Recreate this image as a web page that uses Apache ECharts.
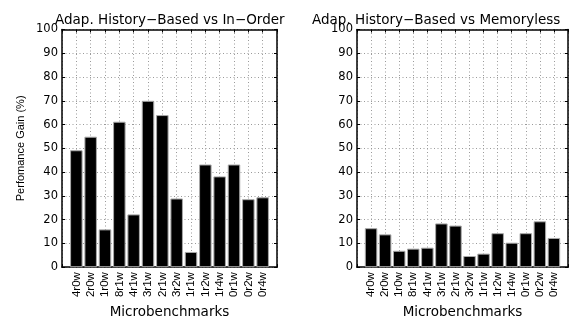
<!DOCTYPE html>
<html>
<head>
<meta charset="utf-8">
<script src="https://cdn.jsdelivr.net/npm/echarts@6/dist/echarts.min.js"></script>
<style>
  html, body { margin: 0; padding: 0; background: #fff; }
  #chart { width: 571px; height: 324px; }
</style>
</head>
<body>
<div id="chart"></div>
<script>
// Microbenchmark names (one bar per benchmark)
const benchmarks = ['4r0w', '2r0w', '1r0w', '8r1w', '4r1w', '3r1w', '2r1w',
                    '3r2w', '1r1w', '1r2w', '1r4w', '0r1w', '0r2w', '0r4w'];

// Performance gain (%) of the adaptive history-based scheduler
const gainVsInOrder    = [49.2, 54.9, 15.9, 61.2, 22.2, 70.0, 64.0,
                          28.9, 6.4, 43.2, 38.2, 43.2, 28.6, 29.4];
const gainVsMemoryless = [16.4, 13.8, 6.9, 7.8, 8.2, 18.4, 17.5,
                          4.7, 5.7, 14.3, 10.3, 14.3, 19.3, 12.3];

const panelTitles = ['Adap. History\u2212Based vs In\u2212Order',
                     'Adap. History\u2212Based vs Memoryless'];
const yTicks = [0, 10, 20, 30, 40, 50, 60, 70, 80, 90, 100];

const FONT = 'DejaVu Sans';
const gridDash = { color: '#9a9a9a', width: 1, type: [1, 2.5] };

function bottomX(grid) {
  return {
    type: 'value', gridIndex: grid, position: 'bottom',
    min: 0, max: benchmarks.length + 1, interval: 1,
    axisLine: { show: true, onZero: false, lineStyle: { color: '#000', width: 1.5 } },
    axisTick: { show: true, inside: true, length: 3, lineStyle: { color: '#000' } },
    axisLabel: {
      rotate: 90, margin: 5, color: '#000',
      fontFamily: 'Liberation Sans', fontSize: 11.5,
      showMinLabel: true, showMaxLabel: true,
      formatter: v => benchmarks[v - 1] || ''
    },
    splitLine: { show: true, lineStyle: gridDash },
    name: 'Microbenchmarks', nameLocation: 'middle', nameGap: 30,
    nameTextStyle: { fontFamily: FONT, fontSize: 13.5, color: '#000' }
  };
}
function topX(grid) {
  return {
    type: 'value', gridIndex: grid, position: 'top',
    min: 0, max: benchmarks.length + 1, interval: 1,
    axisLine: { show: true, onZero: false, lineStyle: { color: '#000', width: 1.5 } },
    axisTick: { show: true, inside: true, length: 3, lineStyle: { color: '#000' } },
    axisLabel: { show: false }, splitLine: { show: false }
  };
}
function leftY(grid, withName) {
  const ax = {
    type: 'value', gridIndex: grid, position: 'left',
    min: 0, max: 100, interval: 10,
    axisLine: { show: true, onZero: false, lineStyle: { color: '#000', width: 1.5 } },
    axisTick: { show: true, inside: true, length: 3, lineStyle: { color: '#000' } },
    axisLabel: { margin: 4, color: '#000', fontFamily: FONT, fontSize: 11.5,
                 customValues: yTicks },
    splitLine: { show: true, lineStyle: gridDash }
  };
  if (withName) {
    ax.name = 'Perfomance Gain (%)';
    ax.nameLocation = 'middle';
    ax.nameGap = 36;
    ax.nameTextStyle = { fontFamily: 'Liberation Sans', fontSize: 11, color: '#000' };
  }
  return ax;
}
function rightY(grid) {
  return {
    type: 'value', gridIndex: grid, position: 'right',
    min: 0, max: 100, interval: 10,
    axisLine: { show: true, onZero: false, lineStyle: { color: '#000', width: 1.5 } },
    axisTick: { show: true, inside: true, length: 3, lineStyle: { color: '#000' } },
    axisLabel: { show: false }, splitLine: { show: false }
  };
}
function barSeries(values, axisIdx) {
  return {
    type: 'bar', xAxisIndex: axisIdx, yAxisIndex: axisIdx,
    barWidth: 12.5,
    itemStyle: { color: '#000', borderColor: '#a8a8a8', borderWidth: 1 },
    data: values.map((v, i) => [i + 1, v]),
    silent: true, animation: false
  };
}

const chart = echarts.init(document.getElementById('chart'), null, { renderer: 'canvas' });
chart.setOption({
  animation: false,
  backgroundColor: '#fff',
  title: [
    { text: panelTitles[0], left: 50, top: 8,
      textStyle: { fontFamily: FONT, fontSize: 13.5, fontWeight: 'normal', color: '#000' } },
    { text: panelTitles[1], left: 307, top: 8,
      textStyle: { fontFamily: FONT, fontSize: 13.5, fontWeight: 'normal', color: '#000' } }
  ],
  grid: [
    { left: 62, top: 29.5, width: 215, height: 246.5 },
    { left: 357, top: 29.5, width: 211, height: 246.5 }
  ],
  xAxis: [bottomX(0), bottomX(1), topX(0), topX(1)],
  yAxis: [leftY(0, true), leftY(1, false), rightY(0), rightY(1)],
  series: [barSeries(gainVsInOrder, 0), barSeries(gainVsMemoryless, 1)]
});
</script>
</body>
</html>
